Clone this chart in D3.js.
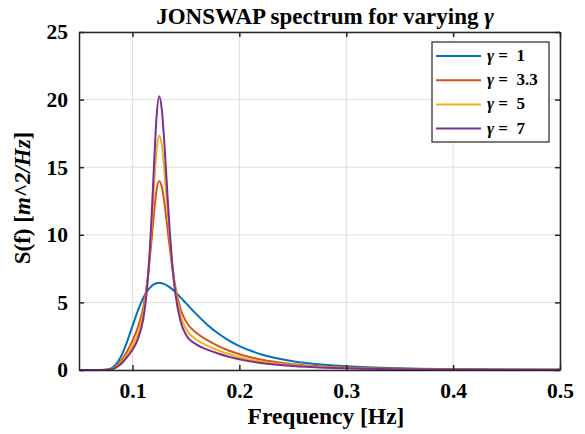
<!DOCTYPE html>
<html>
<head>
<meta charset="utf-8">
<script src="https://cdn.jsdelivr.net/npm/d3@7"></script>
<style>
	body { margin: 0; background: #fff; }
	text { font-family: "Liberation Serif", "Times New Roman", serif; font-weight: bold; fill: #000; white-space: pre; }
</style>
</head>
<body>
<div id="vis-container"></div>
<script>
// frequencies [Hz]
var freq = [0.05, 0.07, 0.075, 0.08, 0.085, 0.09, 0.095, 0.10, 0.105, 0.11, 0.1125, 0.115, 0.1175, 0.12, 0.1225,
	0.125, 0.1275, 0.13, 0.1325, 0.135, 0.1375, 0.14, 0.145, 0.15, 0.16, 0.17, 0.18, 0.19, 0.2, 0.22, 0.25, 0.28,
	0.3, 0.35, 0.4, 0.45, 0.5];

// spectral density S(f), one array per gamma
var sGamma1 = [0, 0.001, 0.019, 0.122, 0.448, 1.111, 2.094, 3.246, 4.369, 5.303, 5.671, 5.962, 6.183, 6.334, 6.420,
	6.446, 6.421, 6.353, 6.247, 6.110, 5.949, 5.769, 5.372, 4.949, 4.111, 3.356, 2.717, 2.194, 1.773, 1.170, 0.650, 0.380,
	0.272, 0.128, 0.066, 0.037, 0.022];
var sGamma33 = [0, 0.001, 0.012, 0.080, 0.294, 0.730, 1.381, 2.177, 3.134, 4.588, 5.732, 7.295, 9.291, 11.477, 13.276,
	13.982, 13.530, 12.316, 10.681, 8.977, 7.446, 6.195, 4.515, 3.599, 2.728, 2.207, 1.786, 1.442, 1.166, 0.769, 0.427, 0.250,
	0.179, 0.084, 0.044, 0.024, 0.014];
var sGamma5 = [0, 0.001, 0.010, 0.066, 0.241, 0.598, 1.132, 1.795, 2.645, 4.132, 5.450, 7.414, 10.142, 13.373, 16.195,
	17.343, 16.612, 14.691, 12.196, 9.723, 7.627, 6.016, 4.026, 3.052, 2.240, 1.807, 1.462, 1.181, 0.954, 0.629, 0.350, 0.204,
	0.146, 0.069, 0.036, 0.020, 0.012];
var sGamma7 = [0, 0.001, 0.008, 0.055, 0.201, 0.498, 0.945, 1.505, 2.261, 3.722, 5.130, 7.364, 10.674, 14.836, 18.650,
	20.242, 19.231, 16.613, 13.312, 10.168, 7.624, 5.759, 3.598, 2.618, 1.873, 1.506, 1.219, 0.984, 0.795, 0.525, 0.292, 0.170,
	0.122, 0.058, 0.030, 0.017, 0.010];

var seriesNames = ["1", "3.3", "5", "7"];
var seriesColors = ["#0072BD", "#D95319", "#EDB120", "#7E2F8E"];
var seriesValues = [sGamma1, sGamma33, sGamma5, sGamma7];

var xTicks = [0.1, 0.2, 0.3, 0.4, 0.5];
var yTicks = [0, 5, 10, 15, 20, 25];

var width = 585;
var height = 434;
// plot box (note: "top" is reserved on window, so use plot* names)
var plotLeft = 79, plotRight = 560, plotTop = 32, plotBottom = 370;

var svg = d3.select("#vis-container")
	.append("svg")
	.attr("width", width)
	.attr("height", height);

var x = d3.scaleLinear().domain([0.05, 0.5]).range([plotLeft, plotRight]);
var y = d3.scaleLinear().domain([0, 25]).range([plotBottom, plotTop]);

// grid
svg.append("g").selectAll("line").data(xTicks).enter().append("line")
	.attr("x1", function(d) { return x(d); })
	.attr("x2", function(d) { return x(d); })
	.attr("y1", plotTop).attr("y2", plotBottom)
	.attr("stroke", "#dedede").attr("stroke-width", 1);
svg.append("g").selectAll("line").data(yTicks).enter().append("line")
	.attr("x1", plotLeft).attr("x2", plotRight)
	.attr("y1", function(d) { return y(d); })
	.attr("y2", function(d) { return y(d); })
	.attr("stroke", "#dedede").attr("stroke-width", 1);

// curves
var line = d3.line()
	.x(function(d, i) { return x(freq[i]); })
	.y(function(d) { return y(d); })
	.curve(d3.curveMonotoneX);

for (var i = 0; i < seriesValues.length; ++i) {
	svg.append("path")
		.attr("d", line(seriesValues[i]))
		.attr("fill", "none")
		.attr("stroke", seriesColors[i])
		.attr("stroke-width", 2);
}

// axes, ticks on all four sides pointing inwards
var tickLen = 5;
svg.append("g").attr("transform", "translate(0," + plotBottom + ")")
	.call(d3.axisBottom(x).tickValues(xTicks).tickSizeInner(-tickLen).tickSizeOuter(0).tickPadding(13).tickFormat(d3.format(".1f")));
svg.append("g").attr("transform", "translate(0," + plotTop + ")")
	.call(d3.axisTop(x).tickValues(xTicks).tickSizeInner(-tickLen).tickSizeOuter(0).tickFormat(""));
svg.append("g").attr("transform", "translate(" + plotLeft + ",0)")
	.call(d3.axisLeft(y).tickValues(yTicks).tickSizeInner(-tickLen).tickSizeOuter(0).tickPadding(11));
svg.append("g").attr("transform", "translate(" + plotRight + ",0)")
	.call(d3.axisRight(y).tickValues(yTicks).tickSizeInner(-tickLen).tickSizeOuter(0).tickFormat(""));

svg.selectAll(".domain").attr("stroke", "#262626").attr("stroke-width", 1.5);
svg.selectAll(".tick line").attr("stroke", "#262626").attr("stroke-width", 1.5);
svg.selectAll(".tick text")
	.style("font-family", "'Liberation Serif', serif")
	.style("font-weight", "bold")
	.style("font-size", "21.5px")
	.attr("fill", "#000");

// title
var title = svg.append("text")
	.attr("x", 325)
	.attr("y", 24)
	.attr("text-anchor", "middle")
	.style("font-size", "23px");
title.append("tspan").text("JONSWAP spectrum for varying ");
title.append("tspan").style("font-style", "italic").text("γ");

// axis labels
svg.append("text")
	.attr("x", 326)
	.attr("y", 424)
	.attr("text-anchor", "middle")
	.style("font-size", "23.5px")
	.text("Frequency [Hz]");

var yLabel = svg.append("text")
	.attr("transform", "translate(30,198) rotate(-90)")
	.attr("text-anchor", "middle")
	.style("font-size", "23px");
yLabel.append("tspan").text("S(f) [");
yLabel.append("tspan").style("font-style", "italic").text("m^2/Hz");
yLabel.append("tspan").text("]");

// legend
var legend = svg.append("g").attr("transform", "translate(432,42)");
legend.append("rect")
	.attr("width", 117).attr("height", 100)
	.attr("fill", "#fff").attr("stroke", "#262626").attr("stroke-width", 1.2);
for (var j = 0; j < seriesNames.length; ++j) {
	var rowY = 14 + j * 24.2;
	legend.append("line")
		.attr("x1", 4).attr("x2", 49)
		.attr("y1", rowY).attr("y2", rowY)
		.attr("stroke", seriesColors[j]).attr("stroke-width", 2);
	var label = legend.append("text")
		.attr("x", 55).attr("y", rowY + 5)
		.style("font-size", "17px");
	label.append("tspan").style("font-style", "italic").text("γ");
	label.append("tspan").text(" =  " + seriesNames[j]);
}
</script>
</body>
</html>
